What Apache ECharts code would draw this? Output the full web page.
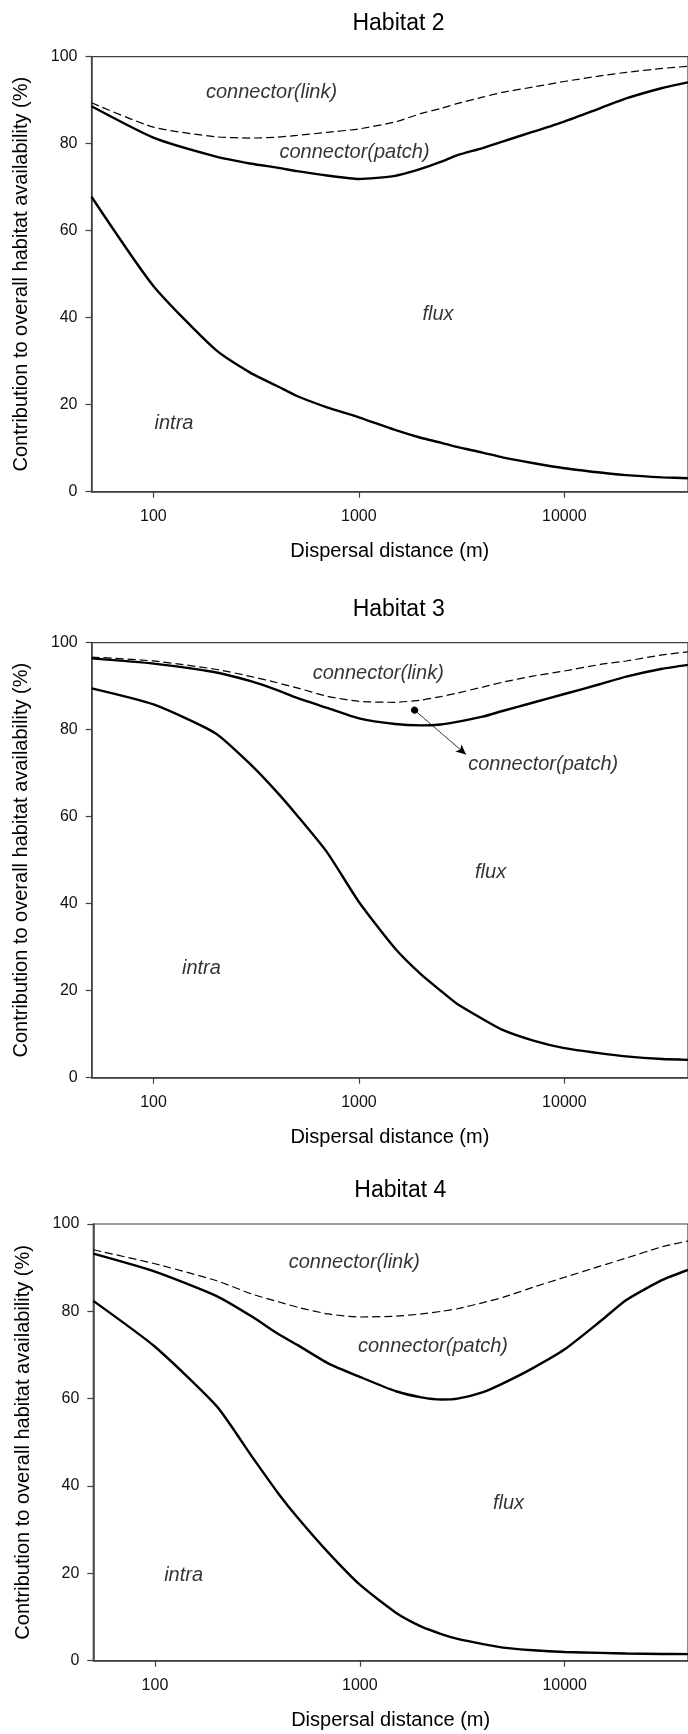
<!DOCTYPE html>
<html>
<head>
<meta charset="utf-8">
<script src="https://cdn.jsdelivr.net/npm/echarts@6/dist/echarts.min.js"></script>
<style>
  html, body { margin: 0; padding: 0; background: #fff; }
  #chart { width: 688px; height: 1734px; }
</style>
</head>
<body>
<div id="chart"></div>
<script>
// --- data ---
const distances = [50, 100, 200, 300, 400, 500, 700, 1000, 1500, 2000, 2500, 3000, 4000, 5000, 7000, 10000, 15000, 20000, 30000, 40000]
const xTickValues = [100, 1000, 10000]
const yTickValues = [0, 20, 40, 60, 80, 100]

const h2Intra = [67.8, 47.3, 32.7, 27.2, 24.3, 22.0, 19.4, 17.1, 14.2, 12.4, 11.3, 10.3, 9.0, 7.9, 6.6, 5.4, 4.4, 3.8, 3.3, 3.1]
const h2Patch = [88.6, 81.4, 77.1, 75.4, 74.5, 73.7, 72.7, 71.9, 72.6, 74.2, 75.8, 77.3, 79.0, 80.5, 82.7, 85.1, 88.2, 90.4, 92.8, 94.1]
const h2Link = [89.4, 83.8, 81.6, 81.3, 81.5, 81.9, 82.6, 83.4, 85.0, 86.9, 88.1, 89.2, 90.7, 91.8, 93.0, 94.3, 95.6, 96.4, 97.3, 97.8]

const h3Intra = [89.5, 85.8, 79.2, 71.8, 65.6, 60.3, 51.8, 40.4, 29.7, 23.8, 20.0, 17.0, 13.5, 11.0, 8.6, 6.8, 5.6, 4.9, 4.3, 4.1]
const h3Patch = [96.4, 95.2, 93.2, 91.1, 89.1, 87.3, 85.0, 82.6, 81.3, 81.0, 81.2, 81.8, 83.0, 84.3, 86.2, 88.2, 90.5, 92.2, 94.0, 94.9]
const h3Link = [96.7, 95.8, 93.9, 92.2, 90.8, 89.6, 87.7, 86.5, 86.3, 86.8, 87.6, 88.4, 89.8, 90.9, 92.3, 93.5, 95.0, 95.8, 97.2, 97.9]

const h4Intra = [82.4, 71.9, 58.3, 46.5, 38.3, 32.6, 24.8, 17.4, 11.0, 7.8, 6.1, 5.0, 3.8, 3.0, 2.4, 2.0, 1.8, 1.65, 1.55, 1.5]
const h4Patch = [93.2, 89.1, 83.5, 78.7, 74.8, 72.2, 68.1, 65.0, 61.7, 60.3, 59.8, 60.0, 61.5, 63.5, 67.0, 71.3, 77.8, 82.6, 87.2, 89.5]
const h4Link = [94.1, 90.9, 87.0, 83.9, 82.2, 80.9, 79.4, 78.7, 78.9, 79.4, 80.0, 80.6, 82.0, 83.2, 85.5, 87.8, 90.4, 92.2, 94.8, 96.1]

// region labels: [x, y, text]
const h2Labels = [[376, 91.8, 'connector(link)'], [953, 78.1, 'connector(patch)'], [2427, 40.7, 'flux'], [126, 15.7, 'intra']]
const h3Labels = [[1242, 92.9, 'connector(link)'], [7890, 72.0, 'connector(patch)'], [4375, 47.2, 'flux'], [171, 25.1, 'intra']]
const h4Labels = [[940, 91.3, 'connector(link)'], [2275, 71.9, 'connector(patch)'], [5322, 36.1, 'flux'], [138, 19.6, 'intra']]
// habitat 3 pointer: from dot to arrow head
const h3Pointer = [[1866, 84.5], [3321, 74.3]]

// --- style ---
const FONT = 'Liberation Sans, Arial, sans-serif'
const AXIS_COLOR = '#404040'
const INK = '#000'

const panels = [
  { title: 'Habitat 2', intra: h2Intra, patch: h2Patch, link: h2Link, labels: h2Labels, top: 56.7, left: 91.5, height: 435 },
  { title: 'Habitat 3', intra: h3Intra, patch: h3Patch, link: h3Link, labels: h3Labels, top: 642.7, left: 91.7, height: 435 },
  { title: 'Habitat 4', intra: h4Intra, patch: h4Patch, link: h4Link, labels: h4Labels, top: 1224, left: 93.3, height: 436.7 }
]

const pairs = vals => distances.map((d, i) => [d, vals[i]])

const option = {
  backgroundColor: '#fff',
  animation: false,
  title: [],
  grid: [],
  xAxis: [],
  yAxis: [],
  series: []
}

panels.forEach((p, i) => {
  option.title.push({
    text: p.title,
    left: p.left + 302,
    top: p.top - 50,
    textAlign: 'center',
    textStyle: { fontFamily: FONT, fontSize: 23, fontWeight: 'normal', color: INK }
  })

  option.grid.push({
    left: p.left,
    top: p.top,
    width: 604,
    height: p.height,
    show: true,
    borderColor: AXIS_COLOR,
    borderWidth: 1.2
  })

  option.xAxis.push({
    type: 'log',
    gridIndex: i,
    logBase: 10,
    min: 50,
    max: 40000,
    name: 'Dispersal distance (m)',
    nameLocation: 'middle',
    nameGap: 50,
    nameTextStyle: { fontFamily: FONT, fontSize: 20, color: INK },
    axisLine: { lineStyle: { color: AXIS_COLOR, width: 1.5 } },
    axisTick: { inside: false, length: 6, customValues: xTickValues, lineStyle: { color: AXIS_COLOR, width: 1.2 } },
    axisLabel: {
      customValues: xTickValues,
      margin: 17,
      fontFamily: FONT,
      fontSize: 16,
      color: '#111',
      formatter: v => String(Math.round(v))
    },
    splitLine: { show: false },
    minorTick: { show: false }
  })

  option.yAxis.push({
    type: 'value',
    gridIndex: i,
    min: 0,
    max: 100,
    interval: 20,
    name: 'Contribution to overall habitat availability (%)',
    nameLocation: 'middle',
    nameGap: 60,
    nameTextStyle: { fontFamily: FONT, fontSize: 20, color: INK },
    axisLine: { show: true, lineStyle: { color: AXIS_COLOR, width: 1.5 } },
    axisTick: { show: true, inside: false, length: 6, lineStyle: { color: AXIS_COLOR, width: 1.2 } },
    axisLabel: {
      customValues: yTickValues,
      margin: 14,
      fontFamily: FONT,
      fontSize: 16,
      color: '#111'
    },
    splitLine: { show: false }
  })

  const lineBase = {
    type: 'line',
    xAxisIndex: i,
    yAxisIndex: i,
    showSymbol: false,
    symbol: 'none',
    silent: true,
    smooth: 0.2
  }

  option.series.push({ ...lineBase, name: 'intra', data: pairs(p.intra), lineStyle: { color: INK, width: 2.4 } })
  option.series.push({ ...lineBase, name: 'patch', data: pairs(p.patch), lineStyle: { color: INK, width: 2.4 } })
  option.series.push({ ...lineBase, name: 'link', data: pairs(p.link), lineStyle: { color: INK, width: 1.2, type: [8, 4] } })

  // italic region labels placed on the data scale
  option.series.push({
    type: 'scatter',
    xAxisIndex: i,
    yAxisIndex: i,
    symbolSize: 0,
    silent: true,
    data: p.labels.map(l => ({ value: [l[0], l[1]], name: l[2] })),
    label: {
      show: true,
      position: 'inside',
      formatter: '{b}',
      fontFamily: FONT,
      fontStyle: 'italic',
      fontSize: 20,
      color: INK
    },
    markLine: i === 1 ? {
      silent: true,
      animation: false,
      label: { show: false },
      lineStyle: { color: INK, width: 0.8, type: 'solid' },
      data: [[
        { coord: h3Pointer[0], symbol: 'circle', symbolSize: 7 },
        { coord: h3Pointer[1], symbol: 'arrow', symbolSize: [7, 10] }
      ]]
    } : undefined
  })
})

const myChart = echarts.init(document.getElementById('chart'), null, { renderer: 'canvas' })
myChart.setOption(option)
</script>
</body>
</html>
